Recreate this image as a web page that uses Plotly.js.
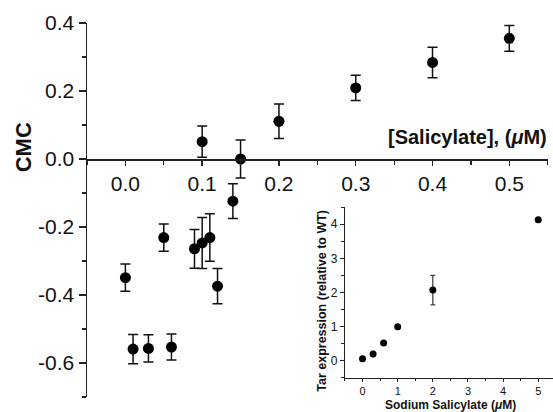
<!DOCTYPE html>
<html>
<head>
<meta charset="utf-8">
<script src="https://cdn.plot.ly/plotly-3.0.1.min.js"></script>
<style>html,body{margin:0;padding:0;background:#fff;}#chart{width:553px;height:412px;}</style>
</head>
<body>
<div id="chart"></div>
<script>
// Main chart data: CMC vs [Salicylate] (uM)
var salX = [0.00, 0.01, 0.03, 0.05, 0.06, 0.09, 0.10, 0.11, 0.12, 0.14, 0.15, 0.10, 0.20, 0.30, 0.40, 0.50];
var cmcY = [-0.349, -0.559, -0.557, -0.231, -0.553, -0.264, -0.247, -0.231, -0.374, -0.124, 0.000, 0.051, 0.111, 0.209, 0.284, 0.355];
var cmcErr = [0.040, 0.043, 0.040, 0.040, 0.038, 0.057, 0.075, 0.070, 0.052, 0.051, 0.056, 0.046, 0.051, 0.037, 0.045, 0.038];

// Inset data: Tar expression vs sodium salicylate (uM)
var naSalX = [0, 0.3, 0.6, 1, 2, 5];
var tarY = [0.06, 0.20, 0.52, 1.00, 2.07, 4.13];
var tarErr = [0, 0, 0, 0, 0.43, 0];

// Tick labels
var mainXTicks = [0.0, 0.1, 0.2, 0.3, 0.4, 0.5];
var mainXTickText = ["0.0", "0.1", "0.2", "0.3", "0.4", "0.5"];
var mainYTicks = [-0.6, -0.4, -0.2, 0.0, 0.2, 0.4];
var mainYTickText = ["-0.6", "-0.4", "-0.2", "0.0", "0.2", "0.4"];
var insetXTicks = [0, 1, 2, 3, 4, 5];
var insetYTicks = [0, 1, 2, 3, 4];

var FONT = "Arial, 'Liberation Sans', sans-serif";
var AX = '#222';

var traces = [
  {
    x: salX, y: cmcY, type: 'scatter', mode: 'markers',
    marker: {color: '#000', size: 11},
    error_y: {type: 'data', array: cmcErr, visible: true, color: '#111', thickness: 1.5, width: 5},
    xaxis: 'x', yaxis: 'y', hoverinfo: 'x+y'
  },
  {
    x: naSalX, y: tarY, type: 'scatter', mode: 'markers',
    marker: {color: '#000', size: 7},
    error_y: {type: 'data', array: tarErr, visible: true, color: '#444', thickness: 1.3, width: 2.5},
    xaxis: 'x2', yaxis: 'y2', hoverinfo: 'x+y'
  }
];

var layout = {
  width: 553, height: 412,
  margin: {l: 87, r: 0, t: 23, b: 15},
  paper_bgcolor: '#fff', plot_bgcolor: 'rgba(0,0,0,0)',
  showlegend: false,
  font: {family: FONT, color: '#111'},
  xaxis: {
    domain: [0, 0.9886], range: [-0.05, 0.55],
    anchor: 'free', position: 0.7 / 1.1,
    showline: true, linecolor: AX, linewidth: 1.5,
    showgrid: false, zeroline: false,
    ticks: 'outside', ticklen: 5, tickwidth: 1.5, tickcolor: AX,
    tickmode: 'array', tickvals: mainXTicks, ticktext: mainXTickText,
    tickfont: {size: 21, family: FONT, color: '#111'},
    minor: {dtick: 0.05, ticks: 'outside', ticklen: 4, tickwidth: 1.2, tickcolor: AX, showgrid: false}
  },
  yaxis: {
    domain: [0, 1], range: [-0.7, 0.4],
    anchor: 'x',
    showline: true, linecolor: AX, linewidth: 1.5,
    showgrid: false, zeroline: false,
    ticks: 'outside', ticklen: 7, tickwidth: 1.5, tickcolor: AX,
    tickmode: 'array', tickvals: mainYTicks, ticktext: mainYTickText,
    tickfont: {size: 21, family: FONT, color: '#111'},
    minor: {dtick: 0.1, ticks: 'outside', ticklen: 4, tickwidth: 1.2, tickcolor: AX, showgrid: false}
  },
  xaxis2: {
    domain: [0.5536, 1], range: [-0.5, 5.42],
    anchor: 'y2',
    showline: true, linecolor: AX, linewidth: 1.2,
    showgrid: false, zeroline: false,
    ticks: 'outside', ticklen: 3, tickwidth: 1, tickcolor: AX,
    tickmode: 'array', tickvals: insetXTicks,
    tickfont: {size: 11, family: FONT, color: '#111'},
    minor: {dtick: 0.5, ticks: 'outside', ticklen: 2, tickwidth: 1, tickcolor: AX, showgrid: false}
  },
  yaxis2: {
    domain: [0.0508, 0.508], range: [-0.5, 4.5],
    anchor: 'x2',
    showline: true, linecolor: AX, linewidth: 1.2,
    showgrid: false, zeroline: false,
    ticks: 'outside', ticklen: 4, tickwidth: 1, tickcolor: AX,
    tickmode: 'array', tickvals: insetYTicks,
    tickfont: {size: 12, family: FONT, color: '#111'},
    minor: {dtick: 0.5, ticks: 'outside', ticklen: 2.5, tickwidth: 1, tickcolor: AX, showgrid: false}
  },
  annotations: [
    {text: '<b>CMC</b>', xref: 'paper', yref: 'paper', x: -0.137, y: 0.668,
     xanchor: 'center', yanchor: 'middle', textangle: -90, showarrow: false,
     font: {size: 22, family: FONT, color: '#111'}},
    {text: '<b>[Salicylate], (<i>μ</i>M)</b>', xref: 'paper', yref: 'paper', x: 0.991, y: 0.695,
     xanchor: 'right', yanchor: 'middle', showarrow: false,
     font: {size: 20, family: FONT, color: '#111'}},
    {text: '<b>Tar expression (relative to WT)</b>', xref: 'paper', yref: 'paper', x: 0.504, y: 0.257,
     xanchor: 'center', yanchor: 'middle', textangle: -90, showarrow: false,
     font: {size: 12.5, family: FONT, color: '#111'}},
    {text: '<b>Sodium Salicylate (<i>μ</i>M)</b>', xref: 'paper', yref: 'paper', x: 0.779, y: -0.021,
     xanchor: 'center', yanchor: 'middle', showarrow: false,
     font: {size: 12, family: FONT, color: '#111'}}
  ]
};

Plotly.newPlot('chart', traces, layout, {displayModeBar: false, staticPlot: true});
</script>
</body>
</html>
